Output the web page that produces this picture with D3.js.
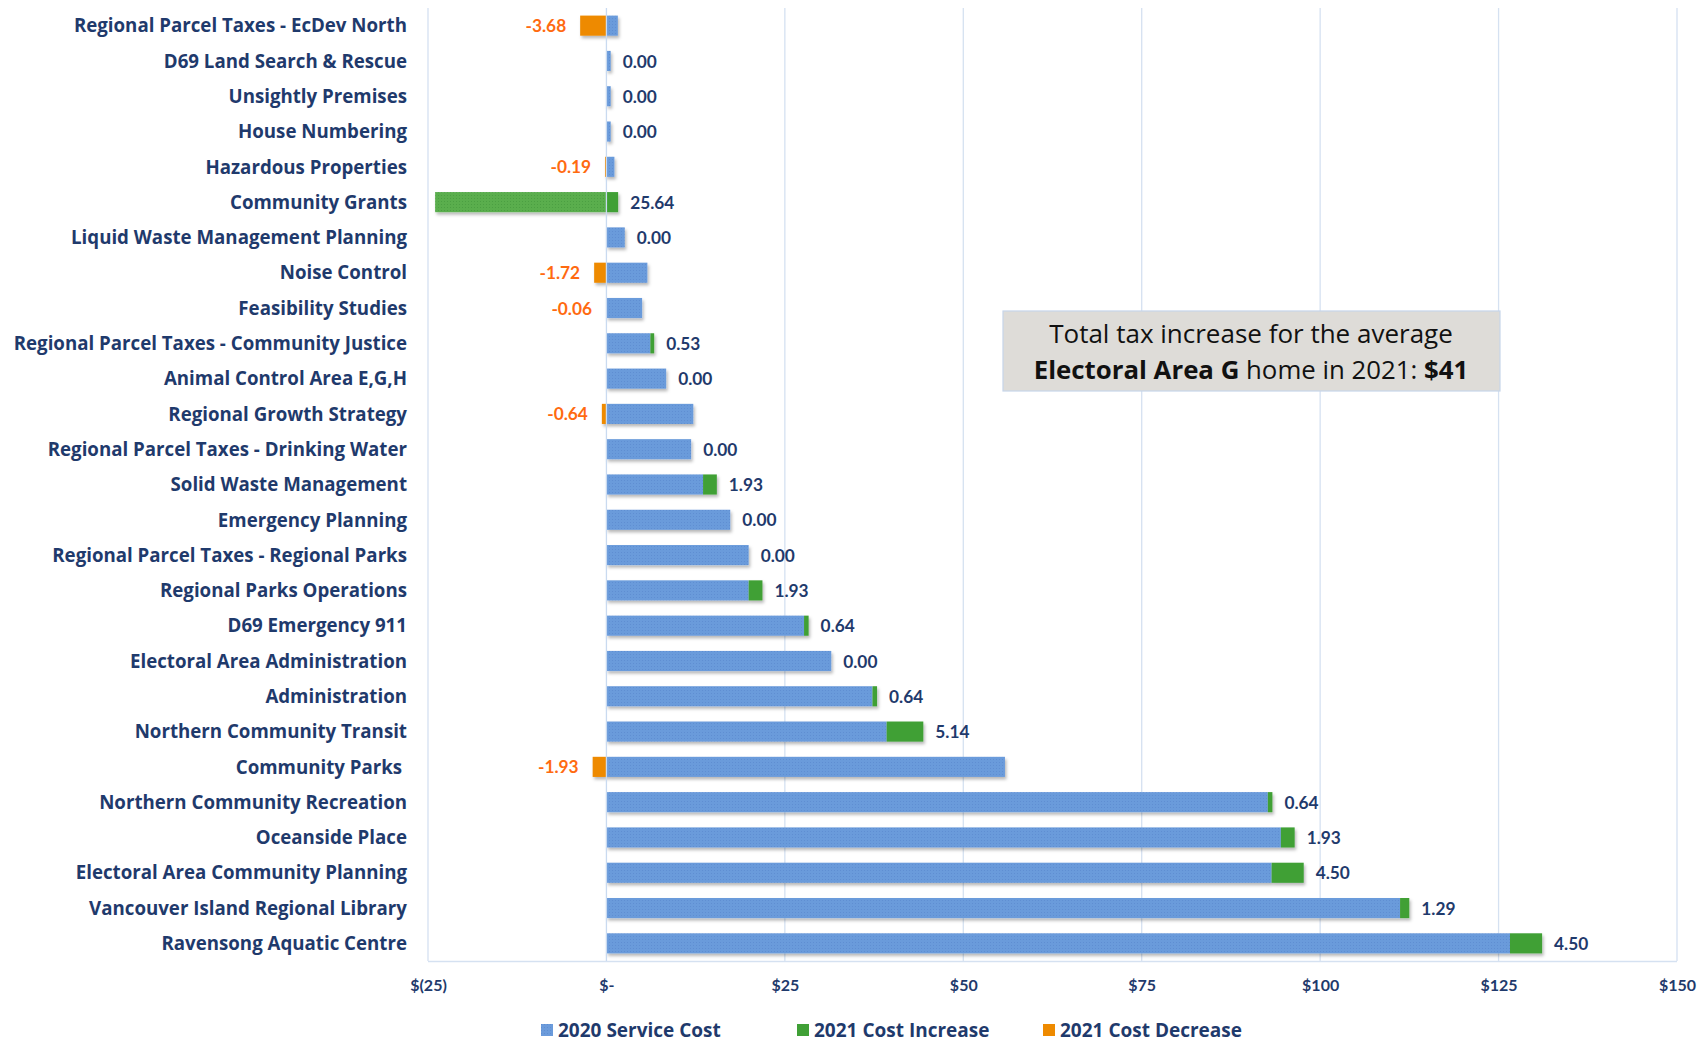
<!DOCTYPE html>
<html>
<head>
<meta charset="utf-8">
<script src="https://cdn.jsdelivr.net/npm/d3@7"></script>
<style>
  html, body { margin: 0; padding: 0; background: #ffffff; }
  svg { display: block; }
</style>
</head>
<body>
<svg id="chart" width="1707" height="1043"></svg>
<script>
const categories = [
  "Regional Parcel Taxes - EcDev North",
  "D69 Land Search & Rescue",
  "Unsightly Premises",
  "House Numbering",
  "Hazardous Properties",
  "Community Grants",
  "Liquid Waste Management Planning",
  "Noise Control",
  "Feasibility Studies",
  "Regional Parcel Taxes - Community Justice",
  "Animal Control Area E,G,H",
  "Regional Growth Strategy",
  "Regional Parcel Taxes - Drinking Water",
  "Solid Waste Management",
  "Emergency Planning",
  "Regional Parcel Taxes - Regional Parks",
  "Regional Parks Operations",
  "D69 Emergency 911",
  "Electoral Area Administration",
  "Administration",
  "Northern Community Transit",
  "Community Parks ",
  "Northern Community Recreation",
  "Oceanside Place",
  "Electoral Area Community Planning",
  "Vancouver Island Regional Library",
  "Ravensong Aquatic Centre"
];
// 2020 service cost ($)
const service2020 = [1.6, 0.6, 0.6, 0.6, 1.12, 0, 2.57, 5.74, 5.0, 6.16,
  8.37, 12.17, 11.87, 13.54, 17.35, 19.93, 19.93, 27.69, 31.5, 37.28,
  39.26, 55.84, 92.67, 94.5, 93.2, 111.2, 126.6];
// 2021 cost increase ($)
const increase2021 = [0, 0, 0, 0, 0, 25.64, 0, 0, 0, 0.53,
  0, 0, 0, 1.93, 0, 0, 1.93, 0.64, 0, 0.64,
  5.14, 0, 0.64, 1.93, 4.50, 1.29, 4.50];
// 2021 cost decrease ($)
const decrease2021 = [-3.68, 0, 0, 0, -0.19, 0, 0, -1.72, -0.06, 0,
  0, -0.64, 0, 0, 0, 0, 0, 0, 0, 0,
  0, -1.93, 0, 0, 0, 0, 0];
// part of the increase drawn on the negative side of the axis (Community Grants)
const increaseDrawnLeft = [0, 0, 0, 0, 0, 24.0, 0, 0, 0, 0,
  0, 0, 0, 0, 0, 0, 0, 0, 0, 0,
  0, 0, 0, 0, 0, 0, 0];
const xTicks = [-25, 0, 25, 50, 75, 100, 125, 150];
const legendLabels = ["2020 Service Cost", "2021 Cost Increase", "2021 Cost Decrease"];
const noteLine1 = "Total tax increase for the average";
const noteLine2 = [["Electoral Area G", true], [" home in 2021: ", false], ["$41", true]];

const rows = categories.map((c, i) => ({
  cat: c, base: service2020[i], inc: increase2021[i], dec: decrease2021[i], left: increaseDrawnLeft[i]
}));

const svg = d3.select("#chart");
const FONT = "Lato, 'Open Sans', sans-serif";
const FONT2 = "'Open Sans', Lato, sans-serif";
const NAVY = "#1F3A6C";
const BLUE = "#6B9BDB", GREEN = "#40A036", ORANGE = "#EE8A00", LABEL_ORANGE = "#FF6A10";

const x = d3.scaleLinear().domain([-25, 150]).range([428, 1677]);
const y = d3.scaleBand().domain(categories).range([8, 961]).paddingInner(0.43).paddingOuter(0.215);

const defs = svg.append("defs");
function pattern(id, base, dot) {
  const p = defs.append("pattern").attr("id", id).attr("width", 3).attr("height", 3)
    .attr("patternUnits", "userSpaceOnUse");
  p.append("rect").attr("width", 3).attr("height", 3).attr("fill", base);
  p.append("rect").attr("width", 1).attr("height", 1).attr("fill", dot);
}
pattern("pBlue", BLUE, "#5E8ED2");
pattern("pGreen", "#5AAE4E", "#4C9F42");
const f = defs.append("filter").attr("id", "shadow").attr("x", "-5%").attr("y", "-30%").attr("width", "110%").attr("height", "170%");
f.append("feDropShadow").attr("dx", 1.5).attr("dy", 2.5).attr("stdDeviation", 1.4)
  .attr("flood-color", "#000").attr("flood-opacity", 0.28);

// gridlines
const GRID = "#D5E1F1";
svg.append("g").selectAll("line").data(xTicks.filter(t => t !== 0)).join("line")
  .attr("x1", d => x(d)).attr("x2", d => x(d)).attr("y1", 8).attr("y2", 961)
  .attr("stroke", GRID).attr("stroke-width", 1.3);
svg.append("line").attr("x1", x(-25)).attr("x2", x(150)).attr("y1", 961.5).attr("y2", 961.5)
  .attr("stroke", GRID).attr("stroke-width", 1.3);

// bars
const bars = svg.append("g").attr("filter", "url(#shadow)");
const bh = y.bandwidth();
bars.selectAll("rect.base").data(rows.filter(r => r.base > 0)).join("rect")
  .attr("x", d => x(0)).attr("width", d => x(d.base) - x(0))
  .attr("y", d => y(d.cat)).attr("height", bh).attr("fill", "url(#pBlue)");
bars.selectAll("rect.inc").data(rows.filter(r => r.inc > 0)).join("rect")
  .attr("x", d => x(d.base)).attr("width", d => x(d.base + d.inc - d.left) - x(d.base))
  .attr("y", d => y(d.cat)).attr("height", bh).attr("fill", GREEN);
bars.selectAll("rect.incLeft").data(rows.filter(r => r.left > 0)).join("rect")
  .attr("x", d => x(-d.left)).attr("width", d => x(0) - x(-d.left))
  .attr("y", d => y(d.cat)).attr("height", bh).attr("fill", "url(#pGreen)");
bars.selectAll("rect.dec").data(rows.filter(r => r.dec < 0)).join("rect")
  .attr("x", d => x(d.dec)).attr("width", d => x(0) - x(d.dec))
  .attr("y", d => y(d.cat)).attr("height", bh).attr("fill", ORANGE);

// zero line on top
svg.append("line").attr("x1", x(0)).attr("x2", x(0)).attr("y1", 8).attr("y2", 961)
  .attr("stroke", "#C9DAF0").attr("stroke-width", 1.3);

// category labels
svg.append("g").selectAll("text").data(rows).join("text")
  .attr("x", 407).attr("y", d => y(d.cat) + bh / 2).attr("dy", "0.36em")
  .attr("text-anchor", "end").attr("font-family", FONT2).attr("font-weight", 700)
  .attr("font-size", 18.7).attr("fill", NAVY).attr("xml:space", "preserve")
  .text(d => d.cat);

// value labels
svg.append("g").selectAll("text").data(rows.filter(r => r.dec === 0)).join("text")
  .attr("x", d => x(d.base + d.inc - d.left) + 12).attr("y", d => y(d.cat) + bh / 2).attr("dy", "0.38em")
  .attr("font-family", FONT).attr("font-weight", 700).attr("font-size", 17.3).attr("fill", NAVY)
  .text(d => d.inc.toFixed(2));
svg.append("g").selectAll("text").data(rows.filter(r => r.dec < 0)).join("text")
  .attr("x", d => x(d.dec) - 14).attr("y", d => y(d.cat) + bh / 2).attr("dy", "0.38em")
  .attr("text-anchor", "end").attr("font-family", FONT).attr("font-weight", 700)
  .attr("font-size", 17.3).attr("fill", LABEL_ORANGE)
  .text(d => d.dec.toFixed(2));

// x axis
const fmt = v => v < 0 ? `$(${-v})` : (v === 0 ? "$-" : `$${v}`);
const ax = svg.append("g").attr("transform", "translate(0,985)")
  .call(d3.axisBottom(x).tickValues(xTicks).tickFormat(fmt).tickSize(0).tickPadding(0));
ax.select(".domain").remove();
ax.selectAll("text").attr("dy", "0.35em").attr("font-family", FONT).attr("font-weight", 700)
  .attr("font-size", 16).attr("fill", NAVY);

// legend
const legendX = [541, 797, 1043];
const legendColors = ["url(#pBlue)", GREEN, ORANGE];
const lg = svg.append("g").selectAll("g").data(legendLabels).join("g")
  .attr("transform", (d, i) => `translate(${legendX[i]},1030)`);
lg.append("rect").attr("x", 0).attr("y", -6).attr("width", 12).attr("height", 12)
  .attr("fill", (d, i) => legendColors[i]);
lg.append("text").attr("x", 17).attr("dy", "0.36em").attr("font-family", FONT2).attr("font-weight", 700)
  .attr("font-size", 19).attr("fill", NAVY).text(d => d);

// annotation
const note = svg.append("g");
note.append("rect").attr("x", 1003).attr("y", 311).attr("width", 497).attr("height", 80)
  .attr("fill", "#DEDCD8").attr("stroke", "#C6D5EA").attr("stroke-width", 1.2);
note.append("text").attr("x", 1251).attr("y", 334).attr("dy", "0.36em").attr("text-anchor", "middle")
  .attr("font-family", FONT2).attr("font-size", 26).attr("fill", "#111").text(noteLine1);
const t2 = note.append("text").attr("x", 1251).attr("y", 370).attr("dy", "0.36em").attr("text-anchor", "middle")
  .attr("font-family", FONT2).attr("font-size", 25.8).attr("fill", "#111").attr("xml:space", "preserve");
t2.selectAll("tspan").data(noteLine2).join("tspan")
  .attr("font-weight", d => d[1] ? 700 : 400).text(d => d[0]);
</script>
</body>
</html>
